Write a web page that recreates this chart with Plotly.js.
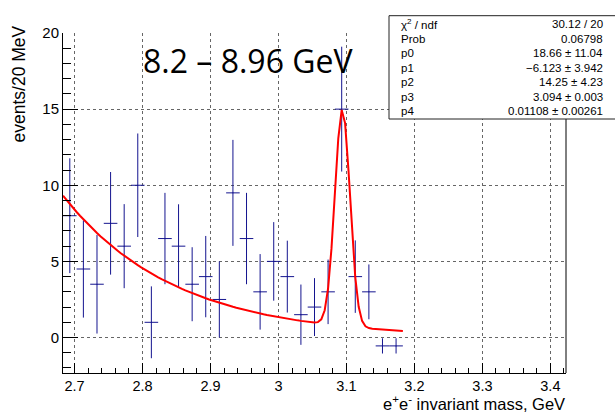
<!DOCTYPE html>
<html>
<head>
<meta charset="utf-8">
<script src="https://cdn.plot.ly/plotly-3.0.1.min.js"></script>
<style>html,body{margin:0;padding:0;background:#fff;}#chart{width:615px;height:413px;}</style>
</head>
<body>
<div id="chart"></div>
<script>
// Histogram bins (bin centers, GeV), contents and errors
const binCenters = [2.693, 2.713, 2.733, 2.753, 2.773, 2.793, 2.813, 2.833, 2.853, 2.873,
                    2.893, 2.913, 2.933, 2.953, 2.973, 2.993, 3.013, 3.033, 3.053, 3.073,
                    3.093, 3.113, 3.133, 3.153, 3.173];
const binCounts  = [8.0, 4.5, 3.5, 7.5, 6.0, 10.0, 1.0, 6.5, 6.0, 3.5,
                    4.0, 2.5, 9.5, 6.5, 3.0, 5.0, 4.0, 1.5, 2.0, 3.0,
                    15.0, 4.0, 3.0, -0.55, -0.55];
const binErrors  = [3.77, 3.19, 3.24, 3.37, 2.76, 3.4, 2.36, 3.0, 2.75, 2.43,
                    2.67, 2.5, 3.48, 3.0, 2.48, 2.58, 2.36, 1.98, 1.9, 2.12,
                    4.1, 2.38, 1.8, 0.5, 0.5];
const binHalfWidth = 0.01;

// Fit: exp(p0 + p1*x) + p2*gaus(x; p3, p4)
const fitParams = [18.66, -6.123, 14.25, 3.094, 0.01108];
const fitRange = [2.683, 3.183];
const fitNpx = 100;

// Stats box text
const statNames  = ["χ<sup>2</sup> / ndf", "Prob", "p0", "p1", "p2", "p3", "p4"];
const statValues = ["30.12 / 20", "0.06798", "18.66 ± 11.04", "−6.123 ± 3.942",
                    "14.25 ± 4.23", "3.094 ± 0.003", "0.01108 ± 0.00261"];

const fitX = [], fitY = [];
for (let i = 0; i <= fitNpx; i++) {
  const x = fitRange[0] + (fitRange[1] - fitRange[0]) * i / fitNpx;
  const g = (x - fitParams[3]) / fitParams[4];
  fitX.push(x);
  fitY.push(Math.exp(fitParams[0] + fitParams[1] * x) + fitParams[2] * Math.exp(-0.5 * g * g));
}

const dataColor = '#14148f';
const traces = [
  {
    x: binCenters, y: binCounts, type: 'scatter', mode: 'markers',
    marker: {size: 1, color: dataColor},
    error_y: {type: 'data', array: binErrors, visible: true, color: dataColor, thickness: 1, width: 0},
    error_x: {type: 'constant', value: binHalfWidth, visible: true, color: dataColor, thickness: 1, width: 0},
    hoverinfo: 'skip', showlegend: false
  },
  {
    x: fitX, y: fitY, type: 'scatter', mode: 'lines',
    line: {color: '#ff0000', width: 2}, hoverinfo: 'skip', showlegend: false
  }
];

const L = 63, T = 33, W = 503, H = 340;
const px = v => (v - L) / W;
const py = v => (T + H - v) / H;

const font = {family: 'Liberation Sans, Arial, sans-serif', color: '#000'};
const annotations = [];
const rowY = [24, 38.5, 53, 67.5, 82, 96.7, 111.5];
statNames.forEach((n, i) => {
  annotations.push({xref: 'paper', yref: 'paper', x: px(399), y: py(rowY[i]), xanchor: 'left', yanchor: 'middle',
    text: n, showarrow: false, font: Object.assign({size: 11.5}, font)});
  annotations.push({xref: 'paper', yref: 'paper', x: px(605), y: py(rowY[i]), xanchor: 'right', yanchor: 'middle',
    text: statValues[i], showarrow: false, font: Object.assign({size: 11.5}, font)});
});
annotations.push({xref: 'paper', yref: 'paper', x: px(248), y: py(60), xanchor: 'center', yanchor: 'middle',
  text: '8.2 – 8.96 GeV', showarrow: false, font: {family: 'Open Sans, sans-serif', size: 32, color: '#000'}});
annotations.push({xref: 'paper', yref: 'paper', x: px(567), y: py(403), xanchor: 'right', yanchor: 'middle',
  text: 'e<sup>+</sup>e<sup>-</sup> invariant mass, GeV', showarrow: false, font: Object.assign({size: 16.5}, font)});
annotations.push({xref: 'paper', yref: 'paper', x: px(18), y: py(24), xanchor: 'center', yanchor: 'top',
  textangle: -90, text: 'events/20 MeV', showarrow: false, font: Object.assign({size: 17.5}, font)});

const layout = {
  width: 615, height: 413,
  margin: {l: L, r: 615 - L - W, t: T, b: 413 - T - H, pad: 0},
  paper_bgcolor: '#fff', plot_bgcolor: '#fff',
  showlegend: false,
  xaxis: {
    range: [2.683, 3.423], tick0: 2.7, dtick: 0.1,
    ticks: 'inside', ticklen: 10, tickwidth: 1, tickcolor: '#000',
    minor: {dtick: 0.02, ticks: 'inside', ticklen: 5, tickcolor: '#000', showgrid: false},
    showgrid: true, gridcolor: '#666', griddash: 'dot', gridwidth: 1,
    zeroline: false, showline: true, linecolor: '#000', linewidth: 1, mirror: false,
    tickfont: Object.assign({size: 14.5}, font)
  },
  yaxis: {
    range: [-2.33, 20], tick0: 0, dtick: 5,
    ticks: 'inside', ticklen: 15, tickwidth: 1, tickcolor: '#000',
    minor: {dtick: 1, ticks: 'inside', ticklen: 7.5, tickcolor: '#000', showgrid: false},
    showgrid: true, gridcolor: '#666', griddash: 'dot', gridwidth: 1,
    zeroline: false, showline: true, linecolor: '#000', linewidth: 1, mirror: false,
    tickfont: Object.assign({size: 15}, font)
  },
  shapes: [
    {type: 'line', xref: 'paper', yref: 'paper', x0: 1, x1: 1, y0: 0, y1: 1, line: {color: '#000', width: 1}},
    {type: 'rect', xref: 'paper', yref: 'paper', x0: px(389), x1: px(616), y0: py(119), y1: py(15.7),
     fillcolor: '#fff', line: {color: '#222', width: 1}, layer: 'above'}
  ],
  annotations: annotations
};

Plotly.newPlot('chart', traces, layout, {staticPlot: true, displayModeBar: false});
</script>
</body>
</html>
